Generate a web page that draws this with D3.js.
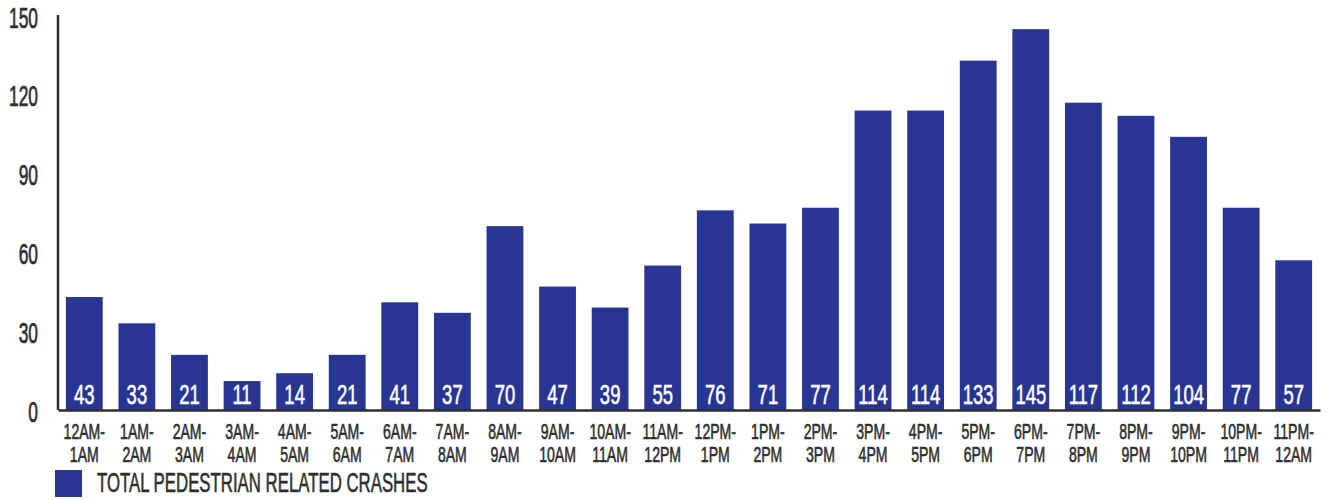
<!DOCTYPE html>
<html>
<head>
<meta charset="utf-8">
<script src="https://cdn.jsdelivr.net/npm/d3@7"></script>
<style>
  body { margin: 0; background: #fff; }
  svg text { font-family: "Liberation Sans", Arial, sans-serif; }
</style>
</head>
<body>
<svg width="1328" height="500"></svg>
<script>
// hour ranges, two lines each
const hoursTop = ["12AM-","1AM-","2AM-","3AM-","4AM-","5AM-","6AM-","7AM-","8AM-","9AM-","10AM-","11AM-",
                  "12PM-","1PM-","2PM-","3PM-","4PM-","5PM-","6PM-","7PM-","8PM-","9PM-","10PM-","11PM-"];
const hoursBottom = ["1AM","2AM","3AM","4AM","5AM","6AM","7AM","8AM","9AM","10AM","11AM","12PM",
                     "1PM","2PM","3PM","4PM","5PM","6PM","7PM","8PM","9PM","10PM","11PM","12AM"];
const crashes = [43,33,21,11,14,21,41,37,70,47,39,55,76,71,77,114,114,133,145,117,112,104,77,57];
const yTicks = [0,30,60,90,120,150];
const seriesName = "TOTAL PEDESTRIAN RELATED CRASHES";

const barColor = "#283593";
const inkColor = "#2e2e2e";

const plot = {left: 58, right: 1320, top: 16, bottom: 410};

const svg = d3.select("svg");

const x = d3.scaleBand()
    .domain(d3.range(hoursTop.length))
    .range([plot.left, plot.right])
    .paddingInner(0.3)
    .paddingOuter(0.15);

const y = d3.scaleLinear()
    .domain([0, 150])
    .range([plot.bottom, plot.top]);

// bars
svg.selectAll(".bar")
    .data(crashes)
    .enter().append("rect")
    .attr("class", "bar")
    .attr("x", (d, i) => x(i))
    .attr("y", d => y(d))
    .attr("width", x.bandwidth())
    .attr("height", d => plot.bottom - y(d))
    .attr("fill", barColor);

// value labels inside bars
svg.selectAll(".val")
    .data(crashes)
    .enter().append("text")
    .attr("class", "val")
    .attr("transform", (d, i) => `translate(${x(i) + x.bandwidth() / 2},${plot.bottom - 6}) scale(0.66,1)`)
    .attr("text-anchor", "middle")
    .attr("fill", "#fff")
    .attr("stroke", "#fff").attr("stroke-width", 0.6)
    .style("font-size", "28px")
    .text(d => d);

// y axis
const yAxis = svg.append("g")
    .attr("transform", `translate(${plot.left},0)`)
    .call(d3.axisLeft(y).tickValues(yTicks).tickSize(0).tickSizeOuter(0).tickPadding(0));
yAxis.select(".domain").attr("stroke", inkColor).attr("stroke-width", 2.5)
    .attr("d", `M0,${plot.top - 1}V${plot.bottom}`);
yAxis.selectAll("text")
    .attr("x", 0).attr("dy", null)
    .attr("transform", "translate(-20,11) scale(0.58,1)")
    .attr("fill", inkColor)
    .attr("stroke", inkColor).attr("stroke-width", 0.7)
    .style("font-size", "30px");

// x axis
const xAxis = svg.append("g")
    .attr("transform", `translate(0,${plot.bottom})`)
    .call(d3.axisBottom(x).tickSize(0).tickSizeOuter(0).tickFormat(""));
xAxis.select(".domain").attr("stroke", inkColor).attr("stroke-width", 2.5);
xAxis.selectAll(".tick text").each(function(d) {
    const t = d3.select(this)
        .attr("y", 0).attr("dy", null)
        .attr("transform", "scale(0.64,1)")
        .attr("fill", inkColor)
        .attr("stroke", inkColor).attr("stroke-width", 0.6)
        .style("font-size", "22px");
    t.append("tspan").attr("x", 0).attr("y", 29).text(hoursTop[d]);
    t.append("tspan").attr("x", 0).attr("y", 52).text(hoursBottom[d]);
});

// legend
const legend = svg.append("g");
legend.append("rect")
    .attr("x", 55).attr("y", 470)
    .attr("width", 27).attr("height", 27)
    .attr("fill", barColor);
legend.append("text")
    .attr("transform", "translate(97,492) scale(0.6,1)")
    .attr("fill", inkColor)
    .attr("stroke", inkColor).attr("stroke-width", 0.6)
    .style("font-size", "28px")
    .text(seriesName);
</script>
</body>
</html>
